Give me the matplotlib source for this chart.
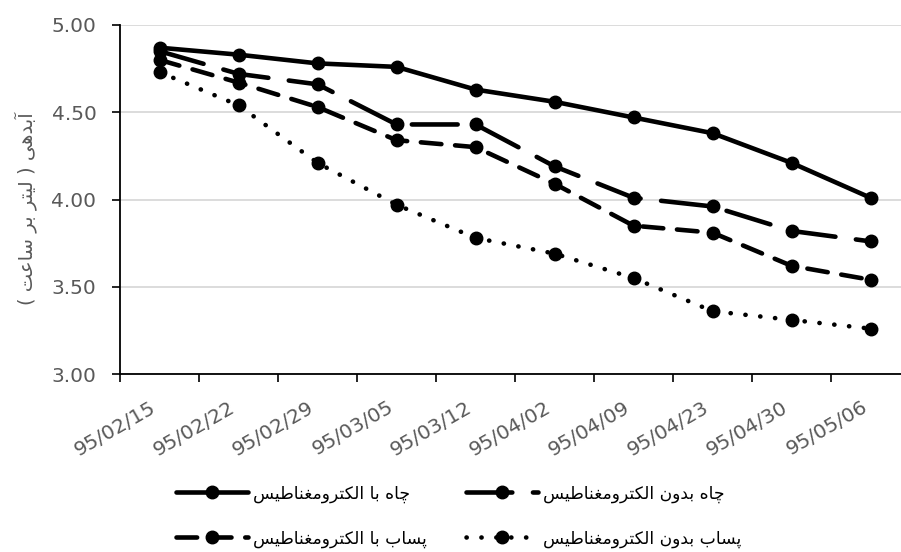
import matplotlib
matplotlib.use('Agg')
import matplotlib.pyplot as plt
import matplotlib.transforms as mtransforms

# Persian text: matplotlib has no shaping/bidi, so convert to presentation forms by hand
FORMS = {
    'ا': (0xFE8D, 0xFE8E, None, None),
    'آ': (0xFE81, 0xFE82, None, None),
    'ب': (0xFE8F, 0xFE90, 0xFE91, 0xFE92),
    'پ': (0xFB56, 0xFB57, 0xFB58, 0xFB59),
    'ت': (0xFE95, 0xFE96, 0xFE97, 0xFE98),
    'چ': (0xFB7A, 0xFB7B, 0xFB7C, 0xFB7D),
    'د': (0xFEA9, 0xFEAA, None, None),
    'ر': (0xFEAD, 0xFEAE, None, None),
    'س': (0xFEB1, 0xFEB2, 0xFEB3, 0xFEB4),
    'ط': (0xFEC1, 0xFEC2, 0xFEC3, 0xFEC4),
    'ع': (0xFEC9, 0xFECA, 0xFECB, 0xFECC),
    'غ': (0xFECD, 0xFECE, 0xFECF, 0xFED0),
    'ک': (0xFB8E, 0xFB8F, 0xFB90, 0xFB91),
    'ل': (0xFEDD, 0xFEDE, 0xFEDF, 0xFEE0),
    'م': (0xFEE1, 0xFEE2, 0xFEE3, 0xFEE4),
    'ن': (0xFEE5, 0xFEE6, 0xFEE7, 0xFEE8),
    'ه': (0xFEE9, 0xFEEA, 0xFEEB, 0xFEEC),
    'و': (0xFEED, 0xFEEE, None, None),
    'ی': (0xFBFC, 0xFBFD, 0xFBFE, 0xFBFF),
}
MIRROR = {'(': ')', ')': '('}


def fa(text):
    out = []
    for i, ch in enumerate(text):
        if ch not in FORMS:
            out.append(MIRROR.get(ch, ch))
            continue
        prev = text[i - 1] if i > 0 else ''
        nxt = text[i + 1] if i + 1 < len(text) else ''
        join_prev = prev in FORMS and FORMS[prev][2] is not None
        join_next = FORMS[ch][2] is not None and nxt in FORMS
        iso, fin, ini, med = FORMS[ch]
        if join_prev and join_next:
            code = med
        elif join_prev:
            code = fin
        elif join_next:
            code = ini
        else:
            code = iso
        out.append(chr(code))
    return ''.join(reversed(out))


dates = ['95/02/15', '95/02/22', '95/02/29', '95/03/05', '95/03/12',
         '95/04/02', '95/04/09', '95/04/23', '95/04/30', '95/05/06']

well_with = [4.87, 4.83, 4.78, 4.76, 4.63, 4.56, 4.47, 4.38, 4.21, 4.01]
well_without = [4.85, 4.72, 4.66, 4.43, 4.43, 4.19, 4.01, 3.96, 3.82, 3.76]
waste_with = [4.80, 4.67, 4.53, 4.34, 4.30, 4.09, 3.85, 3.81, 3.62, 3.54]
waste_without = [4.73, 4.54, 4.21, 3.97, 3.78, 3.69, 3.55, 3.36, 3.31, 3.26]

names = ['چاه با الکترومغناطیس', 'چاه بدون الکترومغناطیس',
         'پساب با الکترومغناطیس', 'پساب بدون الکترومغناطیس']
ylabel = 'آبدهی ( لیتر بر ساعت )'

plt.rcParams['font.family'] = ['DejaVu Sans']
grey = '#595959'

fig = plt.figure(figsize=(9.01, 5.52), dpi=100)
ax = fig.add_axes([120 / 901, 1 - 374 / 552, 790 / 901, 349 / 552])

x = list(range(len(dates)))
lw = 3.3
ms = 9
l1, = ax.plot(x, well_with, color='black', lw=lw, marker='o', ms=ms,
              solid_capstyle='round')
l2, = ax.plot(x, well_without, color='black', lw=lw, marker='o', ms=ms,
              linestyle=(0, (10, 4.5)), dash_capstyle='round')
l3, = ax.plot(x, waste_with, color='black', lw=lw, marker='o', ms=ms,
              linestyle=(0, (4.5, 3)), dash_capstyle='round')
l4, = ax.plot(x, waste_without, color='black', lw=lw, marker='o', ms=ms,
              linestyle=(0, (0.05, 3.2)), dash_capstyle='round')

ax.set_xlim(-0.5, len(dates) - 0.5)
ax.set_ylim(3.0, 5.0)
ax.set_yticks([3.0, 3.5, 4.0, 4.5, 5.0])
ax.set_yticklabels(['%.2f' % v for v in [3.0, 3.5, 4.0, 4.5, 5.0]])
ax.set_xticks(x)
ax.set_xticklabels(dates, rotation=30, ha='right', va='top')
shift = mtransforms.ScaledTranslation(5 / 72, 0, fig.dpi_scale_trans)
for lab in ax.get_xticklabels():
    lab.set_transform(lab.get_transform() + shift)
ax.set_xticks([i - 0.5 for i in range(len(dates) + 1)], minor=True)
ax.tick_params(axis='x', which='major', length=0, pad=17, labelsize=14.5, labelcolor=grey)
ax.tick_params(axis='x', which='minor', length=6, width=1.2, color='black')
ax.tick_params(axis='y', length=6, width=1.2, pad=11, labelsize=14.5, labelcolor=grey)

ax.grid(axis='y', color='#d9d9d9', lw=1.3)
ax.set_axisbelow(True)
for s in ['top', 'right']:
    ax.spines[s].set_visible(False)
for s in ['left', 'bottom']:
    ax.spines[s].set_color('black')
    ax.spines[s].set_linewidth(1.3)

ax.set_ylabel(fa(ylabel), fontsize=14, color=grey)
ax.yaxis.set_label_coords(-0.105, 0.473)

fig.legend([l1, l3, l2, l4], [fa(n) for n in [names[0], names[2], names[1], names[3]]],
           loc='center', bbox_to_anchor=(459 / 901, 1 - 516 / 552), ncol=2,
           frameon=False, fontsize=12.3, handlelength=4.2, handletextpad=0.3,
           columnspacing=2.3, labelspacing=1.55)

fig.savefig('out.png', dpi=100)
